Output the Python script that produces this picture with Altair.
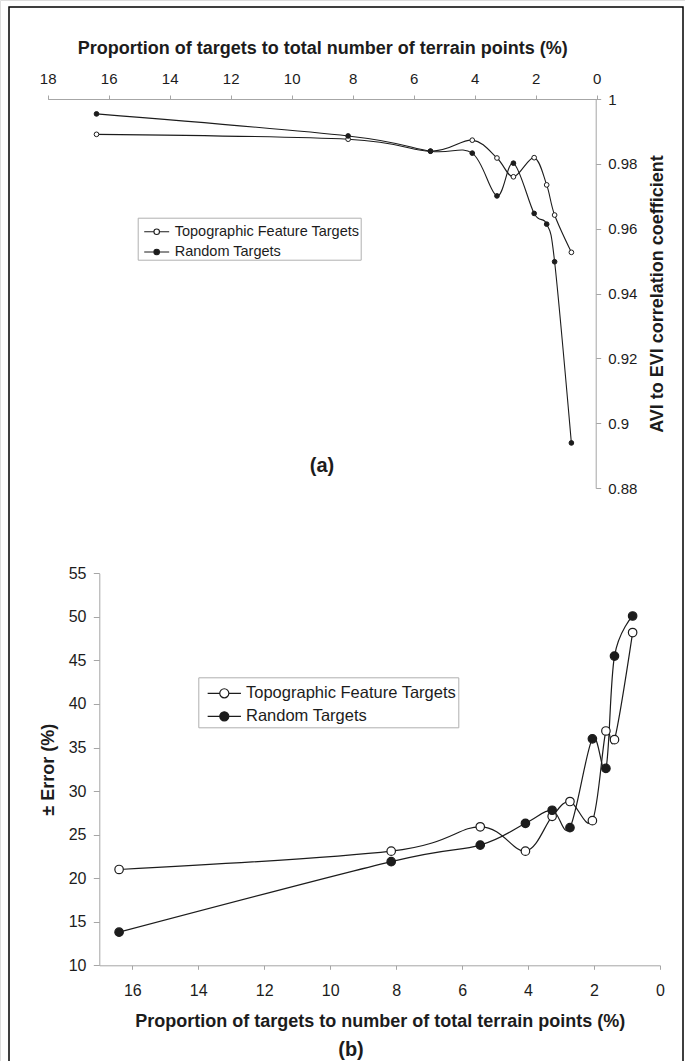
import altair as alt
import pandas as pd

# ---------------- data ----------------
series_names = ["Topographic Feature Targets", "Random Targets"]
x_pct = [16.4, 8.15, 5.45, 4.08, 3.27, 2.73, 2.05, 1.64, 1.38, 0.83]

topo_corr = [0.9891, 0.9876, 0.9839, 0.9873, 0.9818, 0.9760, 0.9819, 0.9735, 0.9642, 0.9527]
rand_corr = [0.9954, 0.9886, 0.9839, 0.9833, 0.9701, 0.9802, 0.9647, 0.9614, 0.9498, 0.8939]

topo_err = [21.0, 23.1, 25.9, 23.1, 27.1, 28.8, 26.6, 36.9, 35.9, 48.2]
rand_err = [13.8, 21.9, 23.8, 26.3, 27.8, 25.8, 36.0, 32.6, 45.5, 50.1]

x_ticks_a = [0, 2, 4, 6, 8, 10, 12, 14, 16, 18]
y_ticks_a = [0.88, 0.9, 0.92, 0.94, 0.96, 0.98, 1.0]
x_ticks_b = [0, 2, 4, 6, 8, 10, 12, 14, 16]
y_ticks_b = [10, 15, 20, 25, 30, 35, 40, 45, 50, 55]

title_xa = "Proportion of targets to total number of  terrain points (%)"
title_ya = "AVI to EVI correlation coefficient"
title_xb = "Proportion of targets to number of total terrain points (%)"
title_yb = "\u00b1 Error (%)"


def table(first, second):
    return pd.DataFrame({
        "x": x_pct + x_pct,
        "y": first + second,
        "series": [series_names[0]] * len(first) + [series_names[1]] * len(second),
    })


df_a = table(topo_corr, rand_corr)
df_b = table(topo_err, rand_err)

FONT = "Liberation Sans"
INK = "#1c1c1c"
AX = "#a6a6a6"

common_axis = dict(grid=False, tickColor=AX, domainColor=AX, tickWidth=1, domainWidth=1,
                   labelFont=FONT, labelColor=INK, labelFlush=False, labelOverlap=False,
                   titleFont=FONT, titleFontSize=18, titleFontWeight="bold", titleColor=INK)

# ---------------- panel (a) ----------------
xa = alt.X("x:Q",
           scale=alt.Scale(domain=[0, 18], range=[596.7, 47.7], nice=False, zero=False),
           axis=alt.Axis(orient="top", offset=-99, values=x_ticks_a, tickSize=4,
                         labelFontSize=15, labelPadding=11.7, labelBaseline="alphabetic",
                         title=title_xa, titleX=322.2, titleY=-45.5, titleAlign="center",
                         titleBaseline="alphabetic", **common_axis))
ya = alt.Y("y:Q",
           scale=alt.Scale(domain=[0.88, 1.0], range=[488, 99], nice=False, zero=False),
           axis=alt.Axis(orient="right", offset=-89.3, values=y_ticks_a, format=".2~f",
                         tickSize=5, labelFontSize=15, labelPadding=7,
                         title=title_ya, titleAngle=270, titleX=61.8, titleY=293.5,
                         titleAlign="center", titleBaseline="middle", **common_axis))

sym_a = ("M-1.04,0H-0.23M0.23,0H1.04M-0.23,0A0.23,0.23,0,1,0,0.23,0"
         "A0.23,0.23,0,1,0,-0.23,0Z")
legend_a = alt.Legend(orient="none", legendX=137.7, legendY=217.7, title=None,
                      symbolType=sym_a, symbolSize=576, symbolStrokeColor=INK,
                      symbolStrokeWidth=1.1, labelFont=FONT, labelFontSize=14.5,
                      labelColor=INK, labelOffset=5, padding=1, symbolOffset=5,
                      rowPadding=0.3, strokeColor="#b0b0b0", fillColor="white",
                      cornerRadius=0, labelLimit=400)

line_a = alt.Chart(df_a).mark_line(interpolate="cardinal", color=INK, strokeWidth=1.1).encode(
    x=xa, y=ya, detail="series:N")
pts_a = alt.Chart(df_a).mark_point(shape="circle", filled=True, size=22, stroke=INK,
                                   strokeWidth=1, opacity=1).encode(
    x=xa, y=ya,
    fill=alt.Fill("series:N", scale=alt.Scale(domain=series_names, range=["white", INK]),
                  legend=legend_a))
panel_a = alt.layer(line_a, pts_a)

# ---------------- panel (b) ----------------
xb = alt.X("x:Q",
           scale=alt.Scale(domain=[0, 17], range=[660, 99.3], nice=False, zero=False),
           axis=alt.Axis(orient="bottom", offset=-95.7, values=x_ticks_b, tickSize=4,
                         labelFontSize=16, labelPadding=26.4, labelBaseline="alphabetic",
                         title=title_xb, titleX=379.7, titleY=61.4, titleAlign="center",
                         titleBaseline="alphabetic", **common_axis))
yb = alt.Y("y:Q",
           scale=alt.Scale(domain=[10, 55], range=[965.3, 573.3], nice=False, zero=False),
           axis=alt.Axis(orient="left", offset=-99.3, values=y_ticks_b, tickSize=6,
                         labelFontSize=16, labelPadding=7.3,
                         title=title_yb, titleAngle=270, titleX=-51.3, titleY=769.3,
                         titleAlign="center", titleBaseline="middle", **common_axis))

sym_b = ("M-1.28,0H-0.35M0.35,0H1.28M-0.35,0A0.35,0.35,0,1,0,0.35,0"
         "A0.35,0.35,0,1,0,-0.35,0Z")
legend_b = alt.Legend(orient="none", legendX=198.3, legendY=677.3, title=None,
                      symbolType=sym_b, symbolSize=676, symbolStrokeColor=INK,
                      symbolStrokeWidth=1.2, labelFont=FONT, labelFontSize=16.5,
                      labelColor=INK, labelOffset=7.7, padding=2, symbolOffset=10,
                      rowPadding=0, strokeColor="#b0b0b0", fillColor="white",
                      cornerRadius=0, labelLimit=400)

line_b = alt.Chart(df_b).mark_line(interpolate="cardinal", color=INK, strokeWidth=1.2).encode(
    x=xb, y=yb, detail="series:N")
pts_b = alt.Chart(df_b).mark_point(shape="circle", filled=True, size=72, stroke=INK,
                                   strokeWidth=1.2, opacity=1).encode(
    x=xb, y=yb,
    fill=alt.Fill("series:N", scale=alt.Scale(domain=series_names, range=["white", INK]),
                  legend=legend_b))
panel_b = alt.layer(line_b, pts_b)

# ---------------- decorations ----------------
panel_labels = ["(a)", "(b)"]
frame = alt.Chart(pd.DataFrame({"k": [0]})).mark_rect(
    filled=False, stroke="black", strokeWidth=1.5).encode(
    x=alt.value(9), x2=alt.value(683), y=alt.value(7), y2=alt.value(1090))
lab_a = alt.Chart(pd.DataFrame({"t": [panel_labels[0]]})).mark_text(
    font=FONT, fontSize=20, fontWeight="bold", color=INK, align="center",
    baseline="alphabetic").encode(text="t:N", x=alt.value(322), y=alt.value(472))
lab_b = alt.Chart(pd.DataFrame({"t": [panel_labels[1]]})).mark_text(
    font=FONT, fontSize=20, fontWeight="bold", color=INK, align="center",
    baseline="alphabetic").encode(text="t:N", x=alt.value(351), y=alt.value(1056))

chart = alt.layer(frame, panel_a, panel_b, lab_a, lab_b).resolve_scale(
    x="independent", y="independent", fill="independent"
).properties(
    width=685, height=1061, padding=0, background="white",
    autosize=alt.AutoSizeParams(type="none")
).configure_view(stroke=None).configure(font=FONT)

chart.save("out.html", embed_options={"renderer": "svg", "actions": False})
